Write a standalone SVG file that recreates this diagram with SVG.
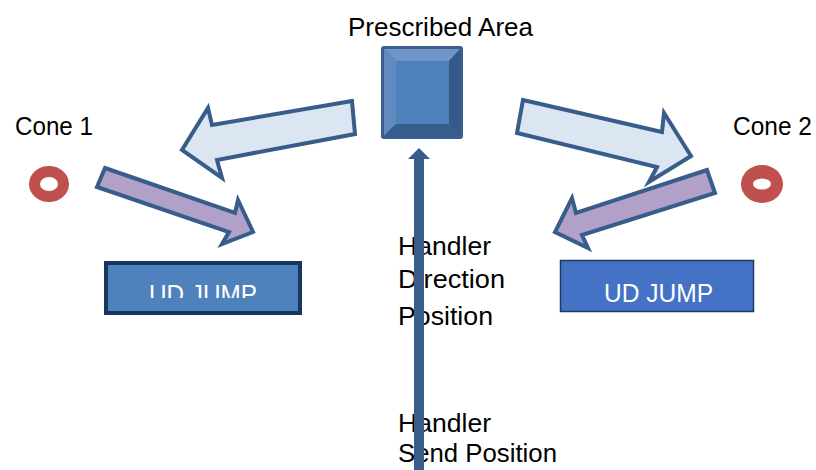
<svg xmlns="http://www.w3.org/2000/svg" width="816" height="470" viewBox="0 0 816 470">
<style>
.t{font-family:"Liberation Sans",Arial,sans-serif;font-size:25px;fill:#000}
.w{font-family:"Liberation Sans",Arial,sans-serif;font-size:25px;fill:#fff}
.big{fill:#dce6f2;stroke:#385d8a;stroke-width:4;stroke-linejoin:miter}
.pur{fill:#b1a0c7;stroke:#385d8a;stroke-width:4;stroke-linejoin:miter}
.cone{fill:#c0504d}
</style>
<defs>
<clipPath id="clipL"><rect x="104" y="261" width="198" height="37"/></clipPath>
</defs>
<rect width="816" height="470" fill="#fff"/>

<g id="prescribed-area">
<rect x="381" y="46" width="82" height="93" rx="3" fill="#3a5f8f"/>
<polygon points="384,49 460,49 449,61 396,61" fill="#6f95c9"/>
<polygon points="384,49 396,61 396,124 384,136" fill="#6289c0"/>
<polygon points="460,49 460,136 449,124 449,61" fill="#345a8a"/>
<polygon points="384,136 396,124 449,124 460,136" fill="#375d8d"/>
<rect x="396" y="61" width="53" height="63" fill="#4f81bd"/>
<text class="t" x="348" y="36" textLength="185" lengthAdjust="spacingAndGlyphs">Prescribed Area</text>
</g>

<g id="cone1">
<path class="cone" fill-rule="evenodd" d="M29,184 a20,18 0 1,0 40,0 a20,18 0 1,0 -40,0 Z M40,184 a9,7 0 1,0 18,0 a9,7 0 1,0 -18,0 Z"/>
<text class="t" x="15" y="135" textLength="78" lengthAdjust="spacingAndGlyphs">Cone 1</text>
</g>

<g id="cone2">
<path class="cone" fill-rule="evenodd" d="M741,184 a21,19 0 1,0 42,0 a21,19 0 1,0 -42,0 Z M753,184 a9,5.5 0 1,0 18,0 a9,5.5 0 1,0 -18,0 Z"/>
<text class="t" x="733" y="135" textLength="79" lengthAdjust="spacingAndGlyphs">Cone 2</text>
</g>

<g id="ud-jump-left">
<rect x="106" y="263" width="194" height="50" fill="#4f81bd" stroke="#17375e" stroke-width="4"/>
<text class="w" x="149" y="303" textLength="108" lengthAdjust="spacingAndGlyphs" clip-path="url(#clipL)">UD JUMP</text>
</g>

<g id="ud-jump-right">
<rect x="560.5" y="260.5" width="193" height="51" fill="#4472c4" stroke="#1f3864" stroke-width="1.5"/>
<text class="w" x="604" y="302" textLength="109" lengthAdjust="spacingAndGlyphs">UD JUMP</text>
</g>

<g id="labels">
<text class="t" x="398" y="255" textLength="93" lengthAdjust="spacingAndGlyphs">Handler</text>
<text class="t" x="398" y="288" textLength="107" lengthAdjust="spacingAndGlyphs">Direction</text>
<text class="t" x="398" y="325" textLength="95" lengthAdjust="spacingAndGlyphs">Position</text>
<text class="t" x="398" y="432" textLength="93" lengthAdjust="spacingAndGlyphs">Handler</text>
<text class="t" x="398" y="462" textLength="159" lengthAdjust="spacingAndGlyphs">Send Position</text>
</g>

<g id="connectors">
<polygon class="big" points="352,101 212,125 208,108 182,150 222,178 217,160 355,134"/>
<polygon class="big" points="523,100 662,132 664,113 691,156 649,182 657,167 517,133"/>
<polygon class="pur" points="105,168 235,213 238,200 253,232 222,244 229,232 97,187"/>
<polygon class="pur" points="707,170 576,213 572,198 555,232 588,248 582,235 715,193"/>
<rect x="414" y="158" width="10" height="312" fill="#385d8a"/>
<polygon points="408,159 430,159 419,148" fill="#385d8a"/>
</g>
</svg>
